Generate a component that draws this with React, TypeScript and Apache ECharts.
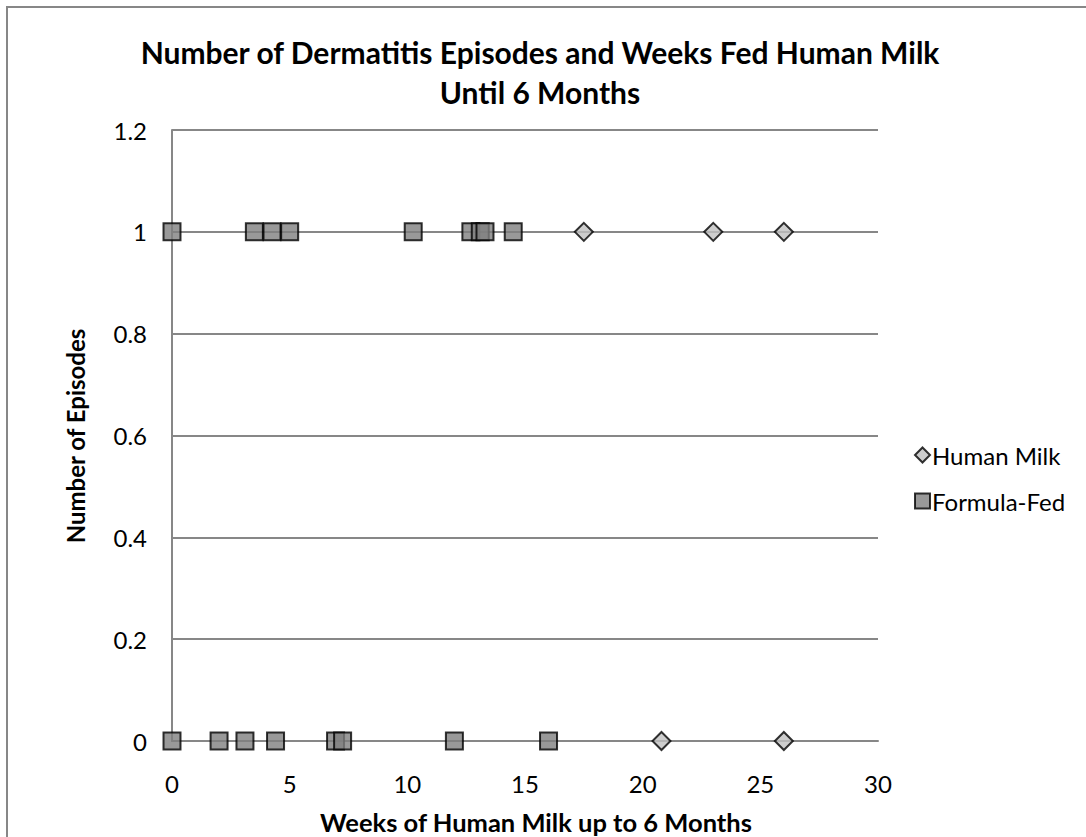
import React, { useEffect, useRef } from "react";
import * as echarts from "echarts";

const titleLines = ["Number of Dermatitis Episodes and Weeks Fed Human Milk", "Until 6 Months"];
const xAxisTitle = "Weeks of Human Milk up to 6 Months";
const yAxisTitle = "Number of Episodes";
const seriesNames = ["Human Milk", "Formula-Fed"];

// [weeks of human milk, number of episodes]
const humanMilk: [number, number][] = [
  [17.5, 1],
  [23, 1],
  [26, 1],
  [20.8, 0],
  [26, 0],
];
const formulaFed: [number, number][] = [
  [0, 1],
  [3.5, 1],
  [4.25, 1],
  [5, 1],
  [10.25, 1],
  [12.7, 1],
  [13.1, 1],
  [13.3, 1],
  [14.5, 1],
  [0, 0],
  [2, 0],
  [3.1, 0],
  [4.4, 0],
  [6.95, 0],
  [7.25, 0],
  [12, 0],
  [16, 0],
];

const xMin = 0, xMax = 30, xStep = 5;
const yMin = 0, yMax = 1.2, yStep = 0.2;

const FONT = "Lato";
const GRID_COLOR = "#878787";

export default function App() {
  const ref = useRef<HTMLDivElement>(null);
  useEffect(() => {
    if (!ref.current) return;
    const chart = echarts.init(ref.current, null, { renderer: "svg" });
    chart.setOption({
      animation: false,
      backgroundColor: "#ffffff",
      textStyle: { fontFamily: FONT },
      title: {
        text: titleLines.join("\n"),
        left: 535,
        top: 27,
        textAlign: "center",
        textStyle: { fontFamily: FONT, fontSize: 30, fontWeight: "bold", color: "#000", lineHeight: 40 },
      },
      graphic: [
        {
          type: "rect",
          z: -10,
          shape: { x: 7, y: 7, width: 1200, height: 1000 },
          style: { fill: "none", stroke: GRID_COLOR, lineWidth: 2 },
        },
        {
          type: "text",
          x: 536,
          y: 822,
          style: {
            text: xAxisTitle,
            fontFamily: FONT,
            fontSize: 25.5,
            fontWeight: "bold",
            fill: "#000",
            align: "center",
            verticalAlign: "middle",
          },
        },
        {
          type: "text",
          x: 75,
          y: 436,
          rotation: Math.PI / 2,
          style: {
            text: yAxisTitle,
            fontFamily: FONT,
            fontSize: 24,
            fontWeight: "bold",
            fill: "#000",
            align: "center",
            verticalAlign: "middle",
          },
        },
      ],
      legend: {
        orient: "vertical",
        left: 909,
        top: 438,
        itemGap: 22,
        itemWidth: 15,
        itemHeight: 15,
        textStyle: { fontFamily: FONT, fontSize: 24, color: "#000", padding: [0, 0, 0, -3] },
        data: seriesNames,
      },
      grid: { left: 172, top: 130, width: 706, height: 611, containLabel: false },
      xAxis: {
        type: "value",
        min: xMin,
        max: xMax,
        interval: xStep,
        axisLine: { show: true, onZero: true, lineStyle: { color: GRID_COLOR, width: 2 } },
        axisTick: { show: false },
        splitLine: { show: false },
        axisLabel: { fontFamily: FONT, fontSize: 24, color: "#000", margin: 30 },
      },
      yAxis: {
        type: "value",
        min: yMin,
        max: yMax,
        interval: yStep,
        axisLine: { show: true, lineStyle: { color: GRID_COLOR, width: 2 } },
        axisTick: { show: false },
        splitLine: { show: true, lineStyle: { color: GRID_COLOR, width: 2 } },
        axisLabel: { fontFamily: FONT, fontSize: 24, color: "#000", margin: 25 },
      },
      series: [
        {
          name: seriesNames[0],
          type: "scatter",
          symbol: "diamond",
          symbolSize: 18,
          data: humanMilk,
          itemStyle: { color: "#c0c0c0", borderColor: "#000", borderWidth: 2 },
        },
        {
          name: seriesNames[1],
          type: "scatter",
          symbol: "rect",
          symbolSize: 17,
          data: formulaFed,
          itemStyle: { color: "#808080", borderColor: "#000", borderWidth: 2 },
        },
      ],
    });
    return () => chart.dispose();
  }, []);
  return (
    <div
      ref={ref}
      style={{ position: "fixed", left: 0, top: 0, width: 1086, height: 837, background: "#fff" }}
    />
  );
}
